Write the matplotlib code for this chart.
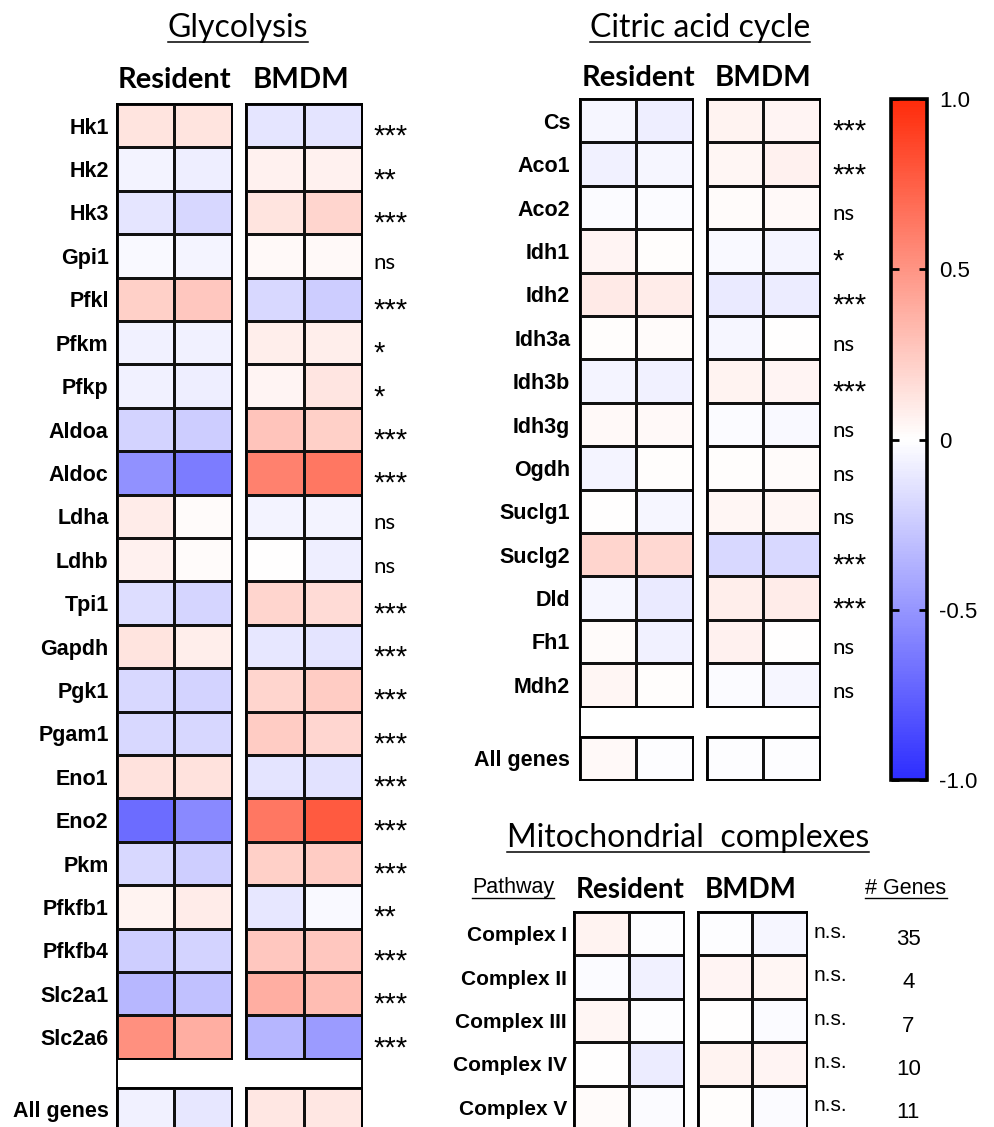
import numpy as np
import matplotlib
matplotlib.use("Agg")
import matplotlib.pyplot as plt
from matplotlib.colors import LinearSegmentedColormap, Normalize
from matplotlib.cm import ScalarMappable
from matplotlib.lines import Line2D

# ---- data: z-scored expression, two replicates per macrophage type ----
glyco_genes = ["Hk1", "Hk2", "Hk3", "Gpi1", "Pfkl", "Pfkm", "Pfkp", "Aldoa",
               "Aldoc", "Ldha", "Ldhb", "Tpi1", "Gapdh", "Pgk1", "Pgam1", "Eno1",
               "Eno2", "Pkm", "Pfkfb1", "Pfkfb4", "Slc2a1", "Slc2a6"]
glyco_resident = [[0.13, 0.13], [-0.06, -0.08], [-0.12, -0.19], [-0.03, -0.05],
                  [0.22, 0.26], [-0.07, -0.07], [-0.07, -0.08], [-0.21, -0.24],
                  [-0.52, -0.62], [0.09, 0.02], [0.07, 0.02], [-0.16, -0.20],
                  [0.13, 0.08], [-0.18, -0.21], [-0.18, -0.19], [0.14, 0.14],
                  [-0.70, -0.56], [-0.18, -0.23], [0.06, 0.09], [-0.23, -0.21],
                  [-0.34, -0.29], [0.52, 0.38]]
glyco_bmdm = [[-0.12, -0.13], [0.07, 0.07], [0.13, 0.20], [0.03, 0.03],
              [-0.18, -0.24], [0.08, 0.08], [0.05, 0.12], [0.28, 0.22],
              [0.59, 0.64], [-0.06, -0.06], [0.0, -0.08], [0.20, 0.17],
              [-0.11, -0.13], [0.20, 0.24], [0.24, 0.19], [-0.13, -0.14],
              [0.64, 0.78], [0.22, 0.24], [-0.11, -0.03], [0.26, 0.26],
              [0.38, 0.31], [-0.35, -0.47]]
glyco_sig = ["***", "**", "***", "ns", "***", "*", "*", "***", "***", "ns", "ns",
             "***", "***", "***", "***", "***", "***", "***", "**", "***", "***", "***"]
glyco_all_resident = [[-0.07, -0.11]]
glyco_all_bmdm = [[0.11, 0.11]]

tca_genes = ["Cs", "Aco1", "Aco2", "Idh1", "Idh2", "Idh3a", "Idh3b", "Idh3g",
             "Ogdh", "Suclg1", "Suclg2", "Dld", "Fh1", "Mdh2"]
tca_resident = [[-0.04, -0.08], [-0.07, -0.04], [-0.02, -0.02], [0.05, 0.01],
                [0.10, 0.09], [0.01, 0.02], [-0.05, -0.07], [0.03, 0.03],
                [-0.05, 0.01], [0.0, -0.04], [0.20, 0.18], [-0.04, -0.10],
                [0.02, -0.07], [0.04, 0.01]]
tca_bmdm = [[0.06, 0.05], [0.04, 0.07], [0.02, 0.03], [-0.03, -0.05],
            [-0.10, -0.09], [-0.04, 0.0], [0.06, 0.05], [-0.02, -0.03],
            [0.01, 0.02], [0.04, 0.04], [-0.18, -0.18], [0.08, 0.09],
            [0.07, 0.0], [-0.02, -0.04]]
tca_sig = ["***", "***", "ns", "*", "***", "ns", "***", "ns", "ns", "ns",
           "***", "***", "ns", "ns"]
tca_all_resident = [[0.03, -0.01]]
tca_all_bmdm = [[-0.01, -0.01]]

mito_pathways = ["Complex I", "Complex II", "Complex III", "Complex IV", "Complex V"]
mito_resident = [[0.06, -0.01], [-0.02, -0.07], [0.04, -0.01], [0.0, -0.09], [0.02, -0.02]]
mito_bmdm = [[-0.01, -0.04], [0.05, 0.04], [0.0, -0.02], [0.06, 0.05], [0.01, -0.02]]
mito_sig = ["n.s."] * 5
mito_n_genes = [35, 4, 7, 10, 11]

cbar_ticks = [-1.0, -0.5, 0.0, 0.5, 1.0]
cbar_labels = ["-1.0", "-0.5", "0", "0.5", "1.0"]

# ---- layout (pixel units on a 995 x 1127 canvas) ----
W, H = 995, 1127
cmap = LinearSegmentedColormap.from_list("prism_bwr", ["#2D2DFF", "#FFFFFF", "#FF2B0A"])
norm = Normalize(-1, 1)
ARIAL = "Liberation Sans"
CALIBRI = "Lato"

fig = plt.figure(figsize=(W / 100, H / 100), dpi=100)


def px_axes(x0, y0, x1, y1, **kw):
    return fig.add_axes([x0 / W, 1 - y1 / H, (x1 - x0) / W, (y1 - y0) / H], **kw)


def ftext(x, y, s, **kw):
    return fig.text(x / W, 1 - y / H, s, **kw)


def underline(txt, dy=0.0, lw=1.1):
    fig.canvas.draw()
    bb = txt.get_window_extent()
    y = bb.y0 - dy
    fig.add_artist(Line2D([bb.x0 / W, bb.x1 / W], [y / H, y / H],
                          transform=fig.transFigure, color="black", lw=lw))


def draw_cells(ax, values, labels=None, label_pad=6, label_size=15.5):
    vals = np.asarray(values, dtype=float)
    ax.pcolormesh(vals, cmap=cmap, norm=norm, edgecolors="#111111", linewidth=0.75)
    ax.set_xlim(0, vals.shape[1])
    ax.set_ylim(vals.shape[0], 0)
    ax.set_xticks([])
    if labels is None:
        ax.set_yticks([])
    else:
        ax.set_yticks(np.arange(len(labels)) + 0.5)
        ax.set_yticklabels(labels, fontsize=label_size, fontweight="bold", family=ARIAL)
        ax.tick_params(axis="y", length=0, pad=label_pad)
    for s in ax.spines.values():
        s.set_linewidth(1.4)


def frame(x0, y0, x1, y1):
    ax = px_axes(x0, y0, x1, y1)
    ax.set_facecolor("none")
    ax.set_xticks([])
    ax.set_yticks([])
    for side in ("top", "bottom"):
        ax.spines[side].set_visible(False)
    for side in ("left", "right"):
        ax.spines[side].set_linewidth(1.4)
    return ax


def mark_sig(ax, sig, dx=8):
    trans = ax.get_yaxis_transform()
    for i, s in enumerate(sig):
        if s.startswith("*"):
            ax.annotate(s, xy=(1, i + 0.5), xycoords=trans, xytext=(dx, -8),
                        textcoords="offset points", ha="left", va="center",
                        fontsize=21, family=ARIAL)
        else:
            ax.annotate(s, xy=(1, i + 0.5), xycoords=trans, xytext=(dx, -5),
                        textcoords="offset points", ha="left", va="center",
                        fontsize=16, family=CALIBRI)


def headers(xres, xbm, y, size=21):
    ftext(xres, y, "Resident", ha="center", va="center", fontsize=size,
          fontweight="bold", family=CALIBRI)
    ftext(xbm, y, "BMDM", ha="center", va="center", fontsize=size,
          fontweight="bold", family=CALIBRI)


row_h = 43.4

# Glycolysis
n = len(glyco_genes)
g_top, g_bot = 104, 104 + n * row_h
frame(117, g_top, 362, 1140)
ax = px_axes(117, g_top, 232, g_bot)
draw_cells(ax, glyco_resident, glyco_genes)
ax = px_axes(246, g_top, 362, g_bot)
draw_cells(ax, glyco_bmdm)
mark_sig(ax, glyco_sig)
ax = px_axes(117, g_bot + 29, 232, g_bot + 29 + row_h)
draw_cells(ax, glyco_all_resident, ["All genes"])
ax = px_axes(246, g_bot + 29, 362, g_bot + 29 + row_h)
draw_cells(ax, glyco_all_bmdm)
t = ftext(238, 37, "Glycolysis", ha="center", va="baseline", fontsize=23, family=CALIBRI)
underline(t, dy=-1)
headers(174, 301, 80)

# Citric acid cycle
n = len(tca_genes)
c_top, c_bot = 99, 99 + n * row_h
frame(580, c_top, 820, c_bot + 30 + row_h)
ax = px_axes(580, c_top, 693, c_bot)
draw_cells(ax, tca_resident, tca_genes, label_pad=7)
ax = px_axes(707, c_top, 820, c_bot)
draw_cells(ax, tca_bmdm)
mark_sig(ax, tca_sig, dx=9)
ax = px_axes(580, c_bot + 30, 693, c_bot + 30 + row_h)
draw_cells(ax, tca_all_resident, ["All genes"], label_pad=7)
ax = px_axes(707, c_bot + 30, 820, c_bot + 30 + row_h)
draw_cells(ax, tca_all_bmdm)
t = ftext(700, 37, "Citric acid cycle", ha="center", va="baseline", fontsize=23, family=CALIBRI)
underline(t, dy=-1)
headers(638, 763, 78)

# Mitochondrial complexes
n = len(mito_pathways)
m_top = 912
ax = px_axes(574, m_top, 684, m_top + n * row_h)
draw_cells(ax, mito_resident, mito_pathways, label_pad=5, label_size=15)
ax = px_axes(698, m_top, 807, m_top + n * row_h)
draw_cells(ax, mito_bmdm)
trans = ax.get_yaxis_transform()
for i, (s, k) in enumerate(zip(mito_sig, mito_n_genes)):
    ax.annotate(s, xy=(1, i + 0.5), xycoords=trans, xytext=(5, 1),
                textcoords="offset points", ha="left", va="center",
                fontsize=15, family=ARIAL)
    ax.annotate(str(k), xy=(1, i + 0.5), xycoords=trans, xytext=(73, -4),
                textcoords="offset points", ha="center", va="center",
                fontsize=16, family=ARIAL)
t = ftext(688, 847, "Mitochondrial  complexes", ha="center", va="baseline",
          fontsize=23, family=CALIBRI)
underline(t, dy=-1)
headers(630, 751, 890, size=20)
t = ftext(513, 888, "Pathway", ha="center", va="center", fontsize=15.5, family=ARIAL)
underline(t, dy=-1, lw=1.0)
t = ftext(906, 888, "# Genes", ha="center", va="center", fontsize=15.5, family=ARIAL)
underline(t, dy=-1, lw=1.0)

# shared colour scale
cax = px_axes(891, 99, 927, 780)
cb = fig.colorbar(ScalarMappable(norm=norm, cmap=cmap), cax=cax, ticks=cbar_ticks)
cb.set_ticklabels(cbar_labels)
cb.outline.set_linewidth(2.6)
cax.tick_params(direction="in", left=True, right=True, length=6, width=2,
                labelsize=16, pad=9)
for lab in cax.get_yticklabels():
    lab.set_family(ARIAL)

fig.savefig("out.png", dpi=100)
